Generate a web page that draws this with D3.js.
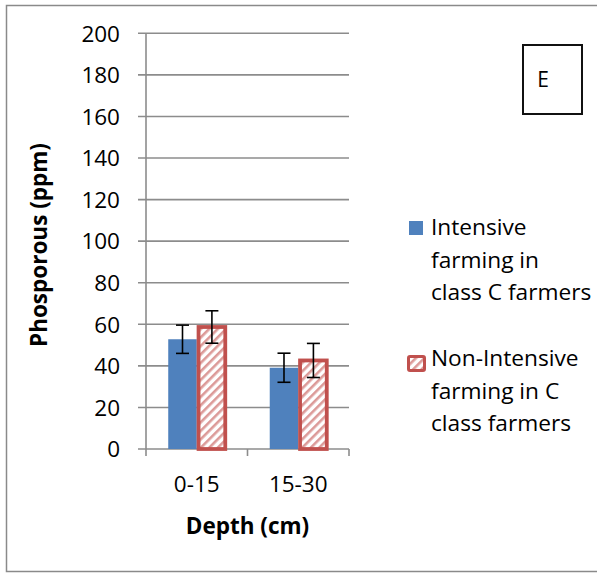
<!DOCTYPE html>
<html><head><meta charset="utf-8">
<script src="https://cdn.jsdelivr.net/npm/d3@7"></script>
<style>body{margin:0;background:#fff}svg{display:block}text{font-family:"Open Sans",sans-serif}</style>
</head><body><svg id="c" width="597" height="573"></svg>
<script>
const categories = ["0-15", "15-30"];
const seriesNames = ["Intensive farming in class C farmers", "Non-Intensive farming in C class farmers"];
const intensive = [52.8, 39.1];
const intensiveErr = [6.8, 7.0];
const nonIntensive = [58.7, 42.6];
const nonIntensiveErr = [7.8, 8.2];
const yTicks = [0, 20, 40, 60, 80, 100, 120, 140, 160, 180, 200];
const legendLines = [["Intensive", "farming in", "class C farmers"], ["Non-Intensive", "farming in C", "class farmers"]];
const panelLabel = "E";

const blue = "#4F81BD", red = "#C0504D", grid = "#8c8c8c";
const svg = d3.select("#c");
const defs = svg.append("defs");
const pat = defs.append("pattern").attr("id", "hatch").attr("patternUnits", "userSpaceOnUse")
  .attr("width", 6).attr("height", 6).attr("patternTransform", "rotate(45)");
pat.append("rect").attr("width", 6).attr("height", 6).attr("fill", "#fff");
pat.append("rect").attr("width", 2.6).attr("height", 6).attr("fill", "#DC9A98");

// outer frame
svg.append("rect").attr("x", 6.5).attr("y", 5.5).attr("width", 620).attr("height", 566)
  .attr("fill", "none").attr("stroke", "#8a8a8a").attr("stroke-width", 1.5);

const y = d3.scaleLinear().domain([0, 200]).range([449, 33.3]);
const x0 = d3.scaleBand().domain(categories).range([146, 349]).padding(0);
const x1 = d3.scaleBand().domain([0, 1]).range([0, x0.bandwidth()]).paddingInner(0).paddingOuter(0.78);

// gridlines
svg.append("g").selectAll("line").data(yTicks).join("line")
  .attr("x1", 138).attr("x2", 349).attr("y1", d => y(d)).attr("y2", d => y(d))
  .attr("stroke", grid).attr("stroke-width", 1.6);
// y axis line
svg.append("line").attr("x1", 146).attr("x2", 146).attr("y1", y(200)).attr("y2", y(0))
  .attr("stroke", grid).attr("stroke-width", 1.6);
// y tick labels
svg.append("g").selectAll("text").data(yTicks).join("text")
  .attr("x", 120).attr("y", d => y(d)).attr("dy", "0.37em").attr("text-anchor", "end")
  .attr("font-size", 22.5).attr("fill", "#000").text(d => d);
// x ticks
const xt = [146].concat(categories.map(c => x0(c) + x0.bandwidth()));
svg.append("g").selectAll("line").data(xt).join("line")
  .attr("x1", d => d).attr("x2", d => d).attr("y1", y(0)).attr("y2", y(0) + 7)
  .attr("stroke", grid).attr("stroke-width", 1.6);
svg.append("g").selectAll("text").data(categories).join("text")
  .attr("x", d => x0(d) + x0.bandwidth() / 2).attr("y", 492).attr("text-anchor", "middle")
  .attr("font-size", 22.5).text(d => d);

// bars
const data = categories.map((c, i) => ({c, v: [intensive[i], nonIntensive[i]], e: [intensiveErr[i], nonIntensiveErr[i]]}));
const g = svg.append("g").selectAll("g").data(data).join("g").attr("transform", d => `translate(${x0(d.c)},0)`);
g.append("rect").attr("x", x1(0)).attr("width", x1.bandwidth())
  .attr("y", d => y(d.v[0])).attr("height", d => y(0) - y(d.v[0])).attr("fill", blue);
g.append("rect").attr("x", x1(1) + 1.8).attr("width", x1.bandwidth() - 1.8)
  .attr("y", d => y(d.v[1])).attr("height", d => y(0) - y(d.v[1]))
  .attr("fill", "url(#hatch)").attr("stroke", red).attr("stroke-width", 3.8);
// error bars
[0, 1].forEach(s => {
  const cx = d => x1(s) + x1.bandwidth() / 2 + (s === 1 ? 0.9 : 0);
  g.append("line").attr("x1", cx).attr("x2", cx)
    .attr("y1", d => y(d.v[s] + d.e[s])).attr("y2", d => y(d.v[s] - d.e[s]))
    .attr("stroke", "#000").attr("stroke-width", 1.6);
  ["+", "-"].forEach(sign => {
    const yy = d => y(sign === "+" ? d.v[s] + d.e[s] : d.v[s] - d.e[s]);
    g.append("line").attr("x1", d => cx(d) - 6.5).attr("x2", d => cx(d) + 6.5)
      .attr("y1", yy).attr("y2", yy).attr("stroke", "#000").attr("stroke-width", 1.6);
  });
});

// axis titles
svg.append("text").attr("x", 247.5).attr("y", 534).attr("text-anchor", "middle")
  .attr("font-size", 22.5).attr("font-weight", "bold").text("Depth (cm)");
svg.append("text").attr("transform", "translate(47,245) rotate(-90)").attr("text-anchor", "middle")
  .attr("font-size", 22.5).attr("font-weight", "bold").text("Phosporous (ppm)");

// legend
const lg = svg.append("g");
lg.append("rect").attr("x", 409).attr("y", 221).attr("width", 14).attr("height", 14).attr("fill", blue);
lg.append("rect").attr("x", 408.5).attr("y", 356.5).attr("width", 16).attr("height", 14).attr("rx", 1.5)
  .attr("fill", "url(#hatch)").attr("stroke", red).attr("stroke-width", 3);
const legY = [235, 366];
legendLines.forEach((lines, i) => {
  lg.append("text").attr("font-size", 22.7).selectAll("tspan").data(lines).join("tspan")
    .attr("x", 431).attr("y", (d, j) => legY[i] + j * 32.5).text(d => d);
});

// panel label box
svg.append("rect").attr("x", 523).attr("y", 45).attr("width", 59).attr("height", 69)
  .attr("fill", "#fff").attr("stroke", "#111").attr("stroke-width", 2);
svg.append("text").attr("x", 543).attr("y", 79).attr("dy", "0.36em").attr("text-anchor", "middle")
  .attr("font-size", 21).text(panelLabel);
</script></body></html>
